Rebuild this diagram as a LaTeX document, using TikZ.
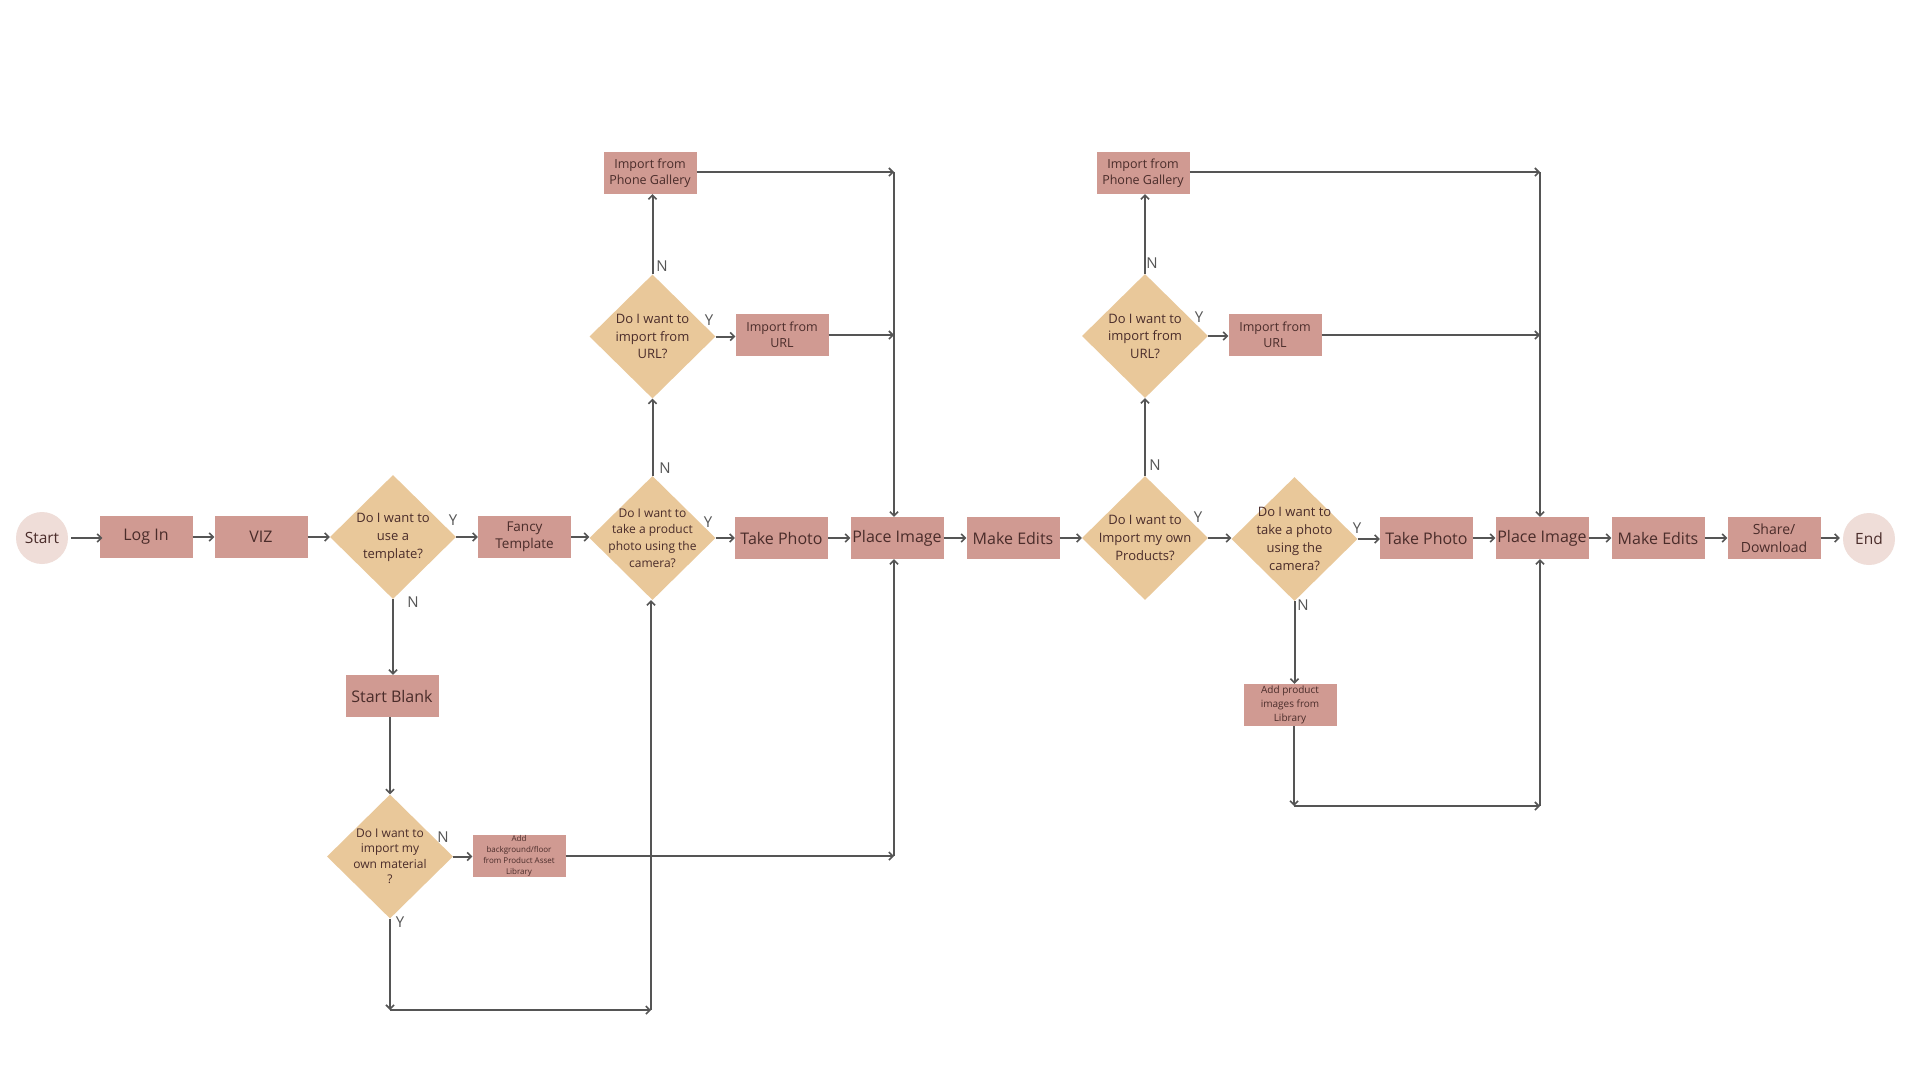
\documentclass[tikz,border=0pt]{standalone}
\usepackage{fontspec}
\setmainfont{Open Sans}
\usetikzlibrary{shapes.geometric,arrows.meta}
\definecolor{boxfill}{HTML}{D09A92}
\definecolor{diafill}{HTML}{E9C89A}
\definecolor{circfill}{HTML}{EFDDD8}
\definecolor{txt}{HTML}{4A2C2A}
\definecolor{lin}{HTML}{555555}
\tikzset{
  box/.style={rectangle, fill=boxfill, minimum width=93pt, minimum height=42pt, inner sep=0pt, align=center, text=txt, font=\fontsize{16}{19}\selectfont},
  smallbox/.style={box, font=\fontsize{12.5}{16.5}\selectfont},
  dia/.style={diamond, fill=diafill, minimum width=126pt, minimum height=124pt, inner sep=0pt},
  dtext/.style={align=center, text=txt, font=\fontsize{13}{18}\selectfont},
  circ/.style={circle, fill=circfill, minimum size=52pt, inner sep=0pt, text=txt, font=\fontsize{15.5}{18}\selectfont},
  arr/.style={draw=lin, line width=2pt, -{Straight Barb[length=4pt,width=8pt,line width=1.6pt]}},
  yn/.style={text=lin, font=\fontsize{15}{18}\selectfont, inner sep=0pt}
}
\begin{document}
\begin{tikzpicture}[x=1pt,y=-1pt]
\useasboundingbox (0,0) rectangle (1920,1080);
\fill[white] (0,0) rectangle (1920,1080);
% main row
\node[circ] (start) at (42,538) {Start};
\node[box] (login) at (146,537) {Log In};
\node[box] (viz) at (261,537) {VIZ};
\node[dia, label={[dtext]center:Do I want to\\use a\\template?}] (d1) at (393,537) {};
\node[box, font=\fontsize{13.5}{17.5}\selectfont] (fancy) at (524.5,537) {Fancy\\Template};
\node[dia, label={[dtext, font=\fontsize{12}{16.7}\selectfont]center:Do I want to\\take a product\\photo using the\\camera?}] (d2) at (652.5,538) {};
\node[box] (take1) at (781.5,538) {Take Photo};
\node[box] (place1) at (897,538) {Place Image};
\node[box] (make1) at (1013,538) {Make Edits};
\node[dia, label={[dtext]center:Do I want to\\Import my own\\Products?}] (d4) at (1145,538) {};
\node[dia, label={[dtext]center:Do I want to\\take a photo\\using the\\camera?}] (d5) at (1294.5,539) {};
\node[box] (take2) at (1426.5,538) {Take Photo};
\node[box] (place2) at (1542,538) {Place Image};
\node[box] (make2) at (1658,538) {Make Edits};
\node[box, font=\fontsize{14}{18}\selectfont] (share) at (1774,538) {Share/\\Download};
\node[circ] (end) at (1869,539) {End};
% upper left
\node[dia, label={[dtext, font=\fontsize{13}{17.5}\selectfont]center:Do I want to\\import from\\URL?}] (durl1) at (652.5,336.5) {};
\node[smallbox] (url1) at (782,335) {Import from\\URL};
\node[smallbox] (gal1) at (650,173) {Import from\\Phone Gallery};
% lower left
\node[box] (sblank) at (392,696) {Start Blank};
\node[dia, label={[dtext, font=\fontsize{12}{15.5}\selectfont]center:Do I want to\\import my\\own material\\?}] (dmat) at (390,856.5) {};
\node[box, font=\fontsize{8}{11}\selectfont] (bg) at (519,856) {Add\\background/floor\\from Product Asset\\Library};
% upper right
\node[dia, label={[dtext, font=\fontsize{13}{17.5}\selectfont]center:Do I want to\\import from\\URL?}] (durl2) at (1145,336) {};
\node[smallbox] (url2) at (1275,335) {Import from\\URL};
\node[smallbox] (gal2) at (1143,173) {Import from\\Phone Gallery};
% lower right
\node[box, font=\fontsize{10}{14}\selectfont] (lib) at (1290,705) {Add product\\images from\\Library};
% corners
\coordinate (c1) at (894,172);
\coordinate (c2) at (894,335);
\coordinate (c3) at (894,856);
\coordinate (c4) at (390,1010);
\coordinate (c5) at (651,1010);
\coordinate (c6) at (1540,172);
\coordinate (c7) at (1540,335);
\coordinate (c8) at (1294,806);
\coordinate (c9) at (1540,806);
% main row connectors
\draw[arr] ([xshift=3pt]start.east) -- ([xshift=3pt]start.east -| login.west);
\draw[arr] (login.east) -- (viz.west);
\draw[arr] (viz.east) -- (d1.west);
\draw[arr] (d1.east) -- (fancy.west);
\draw[arr] (fancy.east) -- (fancy.east -| d2.west);
\draw[arr] (d2.east) -- (take1.west);
\draw[arr] (take1.east) -- (place1.west);
\draw[arr] (place1.east) -- (make1.west);
\draw[arr] (make1.east) -- (d4.west);
\draw[arr] (d4.east) -- (d4.east -| d5.west);
\draw[arr] (d5.east) -- (d5.east -| take2.west);
\draw[arr] (take2.east) -- (place2.west);
\draw[arr] (place2.east) -- (make2.west);
\draw[arr] (make2.east) -- (share.west);
\draw[arr] (share.east) -- ([xshift=-3pt]share.east -| end.west);
% left branch up
\draw[arr] (d2.north) -- (d2.north |- durl1.south);
\draw[arr] (durl1.east) -- (durl1.east -| url1.west);
\draw[arr] (durl1.north) -- (durl1.north |- gal1.south);
\draw[arr] (gal1.east |- c1) -- (c1);
\draw[arr] (c1) -- (c1 |- place1.north);
\draw[arr] (url1.east) -- (c2);
% left branch down
\draw[arr] (d1.south) -- (d1.south |- sblank.north);
\draw[arr] (sblank.south -| dmat.north) -- (dmat.north);
\draw[arr] (dmat.east) -- (dmat.east -| bg.west);
\draw[arr] (bg.east) -- (c3);
\draw[arr] (c3) -- (c3 |- place1.south);
\draw[arr] (dmat.south) -- (c4);
\draw[arr] (c4) -- (c5);
\draw[arr] (c5) -- (c5 |- d2.south);
% right branch up
\draw[arr] (d4.north) -- (d4.north |- durl2.south);
\draw[arr] (durl2.east) -- (durl2.east -| url2.west);
\draw[arr] (durl2.north) -- (durl2.north |- gal2.south);
\draw[arr] (gal2.east |- c6) -- (c6);
\draw[arr] (c6) -- (c6 |- place2.north);
\draw[arr] (url2.east) -- (c7);
% right branch down
\draw[arr] (d5.south) -- (d5.south |- lib.north);
\draw[arr] (lib.south -| c8) -- (c8);
\draw[arr] (c8) -- (c9);
\draw[arr] (c9) -- (c9 |- place2.south);
% labels
\node[yn] (y1) at (453,520) {Y};
\node[yn] (n1) at (413,602) {N};
\node[yn] (y2) at (708,522) {Y};
\node[yn] (n2) at (665,468) {N};
\node[yn] (y3) at (709,320) {Y};
\node[yn] (n3) at (662,266) {N};
\node[yn] (n4) at (443,837) {N};
\node[yn] (y4) at (400,922) {Y};
\node[yn] (y5) at (1198,517) {Y};
\node[yn] (n5) at (1155,465) {N};
\node[yn] (y6) at (1199,317) {Y};
\node[yn] (n6) at (1152,263) {N};
\node[yn] (y7) at (1357,528) {Y};
\node[yn] (n7) at (1303,605) {N};
\end{tikzpicture}
\end{document}
